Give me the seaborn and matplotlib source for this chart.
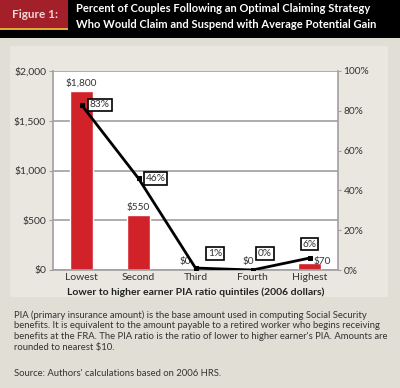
import numpy as np
import pandas as pd
import matplotlib
matplotlib.use("Agg")
import matplotlib.pyplot as plt
import seaborn as sns

# ---------- data ----------
quintiles = ["Lowest", "Second", "Third", "Fourth", "Highest"]
avg_gain = [1800, 550, 0, 0, 70]
pct_claim = [83, 46, 1, 0, 6]
gain_labels = ["$1,800", "$550", "$0", "$0", "$70"]
pct_labels = ["83%", "46%", "1%", "0%", "6%"]
left_ticks = [0, 500, 1000, 1500, 2000]
left_tick_labels = ["$0", "$500", "$1,000", "$1,500", "$2,000"]
right_ticks = [0, 20, 40, 60, 80, 100]
right_tick_labels = ["0%", "20%", "40%", "60%", "80%", "100%"]

df = pd.DataFrame({"quintile": quintiles, "gain": avg_gain, "pct": pct_claim})

# ---------- style ----------
sns.set_style("white")
plt.rcParams["font.family"] = ["Lato", "DejaVu Sans"]

BG = "#e1ded6"
PANEL = "#e9e7e0"
RED = "#d12229"
GRID = "#a0a0a0"
TXT = "#333333"

fig = plt.figure(figsize=(4.0, 3.88), dpi=100)
fig.patch.set_facecolor(BG)

W, H = 400, 388


def fx(px):
    return px / W


def fy(py):
    return 1 - py / H


def band(x0, y_top, w, h, color, z):
    fig.patches.append(plt.Rectangle((fx(x0), fy(y_top + h)), fx(w), h / H,
                                     transform=fig.transFigure, facecolor=color,
                                     linewidth=0, zorder=z))


# header band
band(0, 0, 400, 38, "black", -10)
band(0, 0, 68, 30, "#a3202a", -9)
band(0, 28, 68, 2, "#e2a93a", -8)
fig.text(fx(12), fy(15), "Figure 1:", color="#f3d6d6", fontsize=8.5, fontweight="bold",
         va="center", ha="left")
fig.text(fx(76), fy(9), "Percent of Couples Following an Optimal Claiming Strategy",
         color="white", fontsize=8.0, fontweight="bold", va="center", ha="left")
fig.text(fx(76), fy(24), "Who Would Claim and Suspend with Average Potential Gain",
         color="white", fontsize=8.0, fontweight="bold", va="center", ha="left")

# inner panel
band(10, 46, 378, 251, PANEL, -10)

# ---------- axes ----------
ax = fig.add_axes([fx(53), fy(270), fx(285), 199 / H])
ax.set_zorder(1)
ax.set_facecolor("white")

sns.barplot(data=df, x="quintile", y="gain", color=RED, width=0.4,
            saturation=1, ax=ax, zorder=2)

ax.set_ylim(0, 2000)
ax.set_xlim(-0.5, 4.5)
ax.set_yticks(left_ticks)
ax.set_yticklabels(left_tick_labels)
ax.yaxis.grid(True, color=GRID, linewidth=1.2)
ax.set_axisbelow(True)
ax.tick_params(axis="y", labelsize=7.5, colors=TXT, length=3, width=0.8, color=GRID, pad=2)
ax.tick_params(axis="x", labelsize=7.5, colors=TXT, length=0, pad=2)
ax.set_xlabel("Lower to higher earner PIA ratio quintiles (2006 dollars)",
              fontsize=7.5, fontweight="bold", color="#222222", labelpad=4)
ax.set_ylabel("")
for side in ["left", "bottom", "right", "top"]:
    ax.spines[side].set_color(GRID)
    ax.spines[side].set_linewidth(1.2)
ax.spines["top"].set_visible(False)

# dollar labels
for i, (v, lab) in enumerate(zip(avg_gain, gain_labels)):
    if v > 100:
        ax.annotate(lab, (i, v), xytext=(0, 2), textcoords="offset points",
                    ha="center", va="bottom", fontsize=7.3, color=TXT)
    elif v == 0:
        ax.annotate(lab, (i, v), xytext=(-3, 3), textcoords="offset points",
                    ha="right" if i == 2 else "center", va="bottom", fontsize=7.3, color=TXT)
    else:
        ax.annotate(lab, (i, v), xytext=(3, 1), textcoords="offset points",
                    ha="left", va="center", fontsize=7.3, color=TXT)

# percent line
ax2 = ax.twinx()
ax2.set_zorder(2)
sns.lineplot(x=np.arange(len(quintiles)), y=pct_claim, color="black", linewidth=2,
             marker="s", markersize=3.5, markeredgecolor="black", ax=ax2, zorder=3)
ax2.set_ylim(0, 100)
ax2.set_xlim(-0.5, 4.5)
ax2.set_yticks(right_ticks)
ax2.set_yticklabels(right_tick_labels)
ax2.tick_params(axis="y", labelsize=7.3, colors=TXT, length=2, width=0.8, color=GRID, pad=2)
for side in ["left", "bottom", "right", "top"]:
    ax2.spines[side].set_visible(False)

box = dict(boxstyle="square,pad=0.18", facecolor="white", edgecolor="black", linewidth=1.2)
offsets = [(6, 0), (5, 0), (14, 10.5), (9, 12), (0, 10)]
for i, (v, lab) in enumerate(zip(pct_claim, pct_labels)):
    dx, dy = offsets[i]
    ha = "left" if i < 2 else "center"
    ax2.annotate(lab, (i, v), xytext=(dx, dy), textcoords="offset points",
                 ha=ha, va="center", fontsize=7.3, color=TXT, bbox=box, zorder=4)

# ---------- footnote ----------
note = ("PIA (primary insurance amount) is the base amount used in computing Social Security\n"
        "benefits. It is equivalent to the amount payable to a retired worker who begins receiving\n"
        "benefits at the FRA. The PIA ratio is the ratio of lower to higher earner's PIA. Amounts are\n"
        "rounded to nearest $10.")
fig.text(fx(14), fy(310), note, fontsize=6.8, color=TXT, va="top", ha="left", linespacing=1.25)
fig.text(fx(14), fy(373), "Source: Authors' calculations based on 2006 HRS.",
         fontsize=6.8, color=TXT, va="center", ha="left")

fig.savefig("out.png", dpi=100, facecolor=fig.get_facecolor())
